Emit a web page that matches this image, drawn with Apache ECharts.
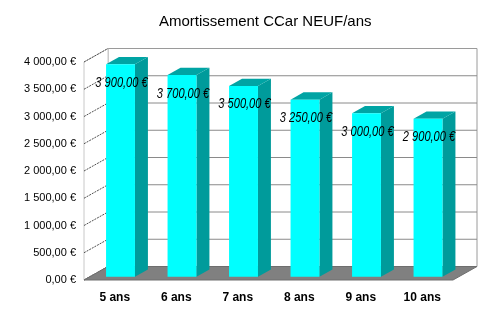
<!DOCTYPE html>
<html>
<head>
<meta charset="utf-8">
<script src="https://cdn.jsdelivr.net/npm/echarts@6/dist/echarts.min.js"></script>
<style>html,body{margin:0;padding:0;background:#fff}#c{width:500px;height:318px}</style>
</head>
<body>
<div id="c"></div>
<script>
const titleText = 'Amortissement CCar NEUF/ans';
const categories = ['5 ans', '6 ans', '7 ans', '8 ans', '9 ans', '10 ans'];
const values = [3900, 3700, 3500, 3250, 3000, 2900];
const yTicks = [0, 500, 1000, 1500, 2000, 2500, 3000, 3500, 4000];

const DEPTH_X = 24, DEPTH_Y = -13.5;
const FRONT = 0.24, BAR_D = 0.54, BAR_W = 0.47;

function fmt(v) {
  return String(v).replace(/\B(?=(\d{3})+(?!\d))/g, ' ') + ',00 €';
}

const chart = echarts.init(document.getElementById('c'), null, {renderer: 'canvas'});

function renderWalls(params, api) {
  const cs = params.coordSys;
  const x0 = cs.x, x1 = cs.x + cs.width;
  const yTop = api.coord([0, yTicks[yTicks.length - 1]])[1];
  const yBot = api.coord([0, yTicks[0]])[1];
  const dx = DEPTH_X, dy = DEPTH_Y;
  const ch = [];
  ch.push({type: 'polygon', shape: {points: [[x0 + dx, yTop + dy], [x1 + dx, yTop + dy], [x1 + dx, yBot + dy], [x0 + dx, yBot + dy]]},
    style: {fill: '#ffffff', stroke: '#9a9a9a', lineWidth: 1}});
  ch.push({type: 'polygon', shape: {points: [[x0, yTop], [x0 + dx, yTop + dy], [x0 + dx, yBot + dy], [x0, yBot]]},
    style: {fill: '#ffffff', stroke: '#c8c8c8', lineWidth: 1}});
  yTicks.forEach(function (t) {
    const y = api.coord([0, t])[1];
    if (t > 0 && t < yTicks[yTicks.length - 1]) {
      ch.push({type: 'line', shape: {x1: x0 + dx, y1: y + dy, x2: x1 + dx, y2: y + dy},
        style: {stroke: '#8a8a8a', lineWidth: 1}});
    }
    ch.push({type: 'line', shape: {x1: x0, y1: y, x2: x0 + dx, y2: y + dy},
      style: {stroke: '#505050', lineWidth: 1, lineDash: [2, 1]}});
  });
  ch.push({type: 'polygon', shape: {points: [[x0, yBot], [x0 + dx, yBot + dy], [x1 + dx, yBot + dy], [x1, yBot]]},
    style: {fill: '#808080', stroke: '#6e6e6e', lineWidth: 1}});
  return {type: 'group', children: ch};
}

function renderBar(params, api) {
  const i = api.value(0), v = api.value(1);
  const bw = api.size([1, 0])[0];
  const top = api.coord([i, v]);
  const bot = api.coord([i, 0]);
  const fx = DEPTH_X * FRONT, fy = DEPTH_Y * FRONT;
  const w = bw * BAR_W;
  const xl = top[0] - w / 2 + fx, xr = xl + w;
  const yt = top[1] + fy, yb = bot[1] + fy;
  const bdx = DEPTH_X * BAR_D, bdy = DEPTH_Y * BAR_D;
  return {type: 'group', children: [
    {type: 'polygon', shape: {points: [[xr, yt], [xr + bdx, yt + bdy], [xr + bdx, yb + bdy], [xr, yb]]}, style: {fill: '#009b9b'}},
    {type: 'polygon', shape: {points: [[xl, yt], [xl + bdx, yt + bdy], [xr + bdx, yt + bdy], [xr, yt]]}, style: {fill: '#00a4a4'}},
    {type: 'rect', shape: {x: xl, y: yt, width: w, height: yb - yt}, style: {fill: '#00ffff'}},
    {type: 'text', x: (xl + xr) / 2 + 1, y: yt + 18.5, scaleX: 0.79,
      style: {text: fmt(v), fontSize: 14, fontStyle: 'italic', fontFamily: 'Liberation Sans', fill: '#000', align: 'center', verticalAlign: 'middle'}}
  ]};
}

chart.setOption({
  animation: false,
  backgroundColor: '#ffffff',
  title: {
    text: titleText, left: 159, top: 14, padding: 0,
    textStyle: {fontFamily: 'Liberation Sans', fontSize: 15, fontWeight: 'normal', color: '#000'}
  },
  grid: {left: 84, right: 47, top: 62, bottom: 38},
  xAxis: {
    type: 'category', data: categories,
    axisLine: {show: false}, axisTick: {show: false}, splitLine: {show: false},
    axisLabel: {margin: 12, color: '#000', fontSize: 12, fontWeight: 'bold', fontFamily: 'Liberation Sans'}
  },
  yAxis: {
    type: 'value', min: yTicks[0], max: yTicks[yTicks.length - 1], interval: 500,
    axisLine: {show: false}, axisTick: {show: false}, splitLine: {show: false},
    axisLabel: {margin: 8, color: '#000', fontSize: 11, fontFamily: 'Liberation Sans', formatter: fmt}
  },
  series: [
    {type: 'custom', z: 1, silent: true, renderItem: renderWalls, data: [[0, 0]]},
    {type: 'custom', z: 2, renderItem: renderBar, encode: {x: 0, y: 1},
      data: values.map(function (v, i) { return [i, v]; })}
  ]
});
</script>
</body>
</html>
